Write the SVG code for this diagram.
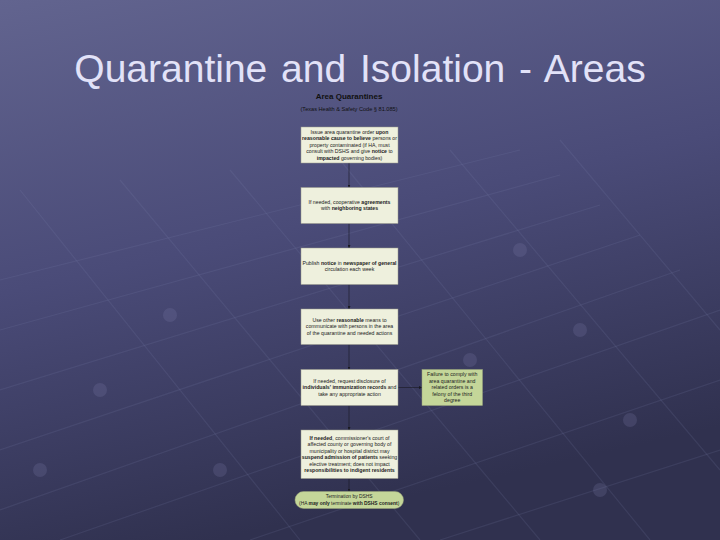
<svg xmlns="http://www.w3.org/2000/svg" width="720" height="540" viewBox="0 0 720 540">
<defs>
<linearGradient id="bg" x1="0" y1="0" x2="0.3" y2="1">
<stop offset="0" stop-color="#62648f"/>
<stop offset="0.5" stop-color="#4a4b78"/>
<stop offset="1" stop-color="#30314f"/>
</linearGradient>
<marker id="ah" viewBox="0 0 6 6" refX="6" refY="3" markerWidth="5" markerHeight="5" orient="auto">
<path d="M0,0 L6,3 L0,6 z" fill="#1a1a22"/>
</marker>
<style>
.box{fill:#eef0dd;stroke:#9a9a8a;stroke-width:0.5}
.grn{fill:#c4d699;stroke:#9aa57a;stroke-width:0.5}
.t{font-family:"Liberation Sans",Arial,sans-serif;font-size:5.2px;fill:#222;text-anchor:middle}
.b{font-weight:bold}
.con{stroke:#1a1a22;stroke-width:0.6;fill:none;marker-end:url(#ah)}
.grid{stroke:#8a8cba;stroke-opacity:0.14;stroke-width:1.2;fill:none}
.dot{fill:#7f81ad;fill-opacity:0.22}
</style>
</defs>
<rect width="720" height="540" fill="url(#bg)"/>
<g id="background-grid">
<path class="grid" d="M0,280 L520,150 M0,330 L560,175 M0,390 L600,205 M0,450 L640,235 M0,510 L680,270 M60,540 L720,310 M250,540 L720,380 M440,540 L720,450"/>
<path class="grid" d="M20,190 L300,540 M120,180 L420,540 M230,170 L540,540 M340,160 L650,540 M450,150 L720,470 M560,140 L720,330"/>
<circle class="dot" cx="100" cy="390" r="7"/><circle class="dot" cx="170" cy="315" r="7"/><circle class="dot" cx="220" cy="470" r="7"/>
<circle class="dot" cx="520" cy="250" r="7"/><circle class="dot" cx="580" cy="330" r="7"/><circle class="dot" cx="630" cy="420" r="7"/>
<circle class="dot" cx="470" cy="360" r="7"/><circle class="dot" cx="40" cy="470" r="7"/><circle class="dot" cx="600" cy="490" r="7"/>
</g>
<text x="360" y="82" font-family="'Liberation Sans',Arial,sans-serif" font-size="39" fill="#e2e2f8" text-anchor="middle" word-spacing="3">Quarantine and Isolation - Areas</text>
<g id="header">
<text x="349" y="99" font-family="'Liberation Sans',Arial,sans-serif" font-size="8" font-weight="bold" fill="#111" text-anchor="middle">Area Quarantines</text>
<text x="349" y="110.5" font-family="'Liberation Sans',Arial,sans-serif" font-size="5.6" fill="#111" text-anchor="middle">(Texas Health &amp; Safety Code § 81.085)</text>
</g>
<g id="connectors">
<line class="con" x1="349" y1="163" x2="349" y2="187.5"/>
<line class="con" x1="349" y1="223.5" x2="349" y2="248"/>
<line class="con" x1="349" y1="284.5" x2="349" y2="309"/>
<line class="con" x1="349" y1="344.5" x2="349" y2="369.5"/>
<line class="con" x1="349" y1="405.5" x2="349" y2="430"/>
<line class="con" x1="349" y1="478.5" x2="349" y2="491.5"/>
<line class="con" x1="398" y1="387.5" x2="422" y2="387.5"/>
</g>
<g id="n1">
<rect class="box" x="301" y="127" width="97" height="36"/>
<text class="t" y="133.8"><tspan x="349.5">Issue area quarantine order <tspan class="b">upon</tspan></tspan><tspan x="349.5" dy="6.5"><tspan class="b">reasonable cause to believe</tspan> persons or</tspan><tspan x="349.5" dy="6.5">property contaminated (if HA, must</tspan><tspan x="349.5" dy="6.5">consult with DSHS and give <tspan class="b">notice</tspan> to</tspan><tspan x="349.5" dy="6.5"><tspan class="b">impacted</tspan> governing bodies)</tspan></text>
</g>
<g id="n2">
<rect class="box" x="301" y="187.5" width="97" height="36"/>
<text class="t" y="203.8"><tspan x="349.5">If needed, cooperative <tspan class="b">agreements</tspan></tspan><tspan x="349.5" dy="6.6">with <tspan class="b">neighboring states</tspan></tspan></text>
</g>
<g id="n3">
<rect class="box" x="301" y="248" width="97" height="36.5"/>
<text class="t" y="264.5"><tspan x="349.5">Publish <tspan class="b">notice</tspan> in <tspan class="b">newspaper of general</tspan></tspan><tspan x="349.5" dy="6.4">circulation each week</tspan></text>
</g>
<g id="n4">
<rect class="box" x="301" y="309" width="97" height="35.5"/>
<text class="t" y="321.8"><tspan x="349.5">Use other <tspan class="b">reasonable</tspan> means to</tspan><tspan x="349.5" dy="6.5">communicate with persons in the area</tspan><tspan x="349.5" dy="6.5">of the quarantine and needed actions</tspan></text>
</g>
<g id="n5">
<rect class="box" x="301" y="369.5" width="97" height="36"/>
<text class="t" y="382.7"><tspan x="349.5">If needed, request disclosure of</tspan><tspan x="349.5" dy="6.5"><tspan class="b">individuals' immunization records</tspan> and</tspan><tspan x="349.5" dy="6.5">take any appropriate action</tspan></text>
</g>
<g id="n5b">
<rect class="grn" x="422" y="369.5" width="60.5" height="36"/>
<text class="t" y="376.1"><tspan x="452.2">Failure to comply with</tspan><tspan x="452.2" dy="6.5">area quarantine and</tspan><tspan x="452.2" dy="6.5">related orders is a</tspan><tspan x="452.2" dy="6.5">felony of the third</tspan><tspan x="452.2" dy="6.3">degree</tspan></text>
</g>
<g id="n6">
<rect class="box" x="301" y="430" width="97" height="48.5"/>
<text class="t" y="439.8"><tspan x="349.5"><tspan class="b">If needed</tspan>, commissioner's court of</tspan><tspan x="349.5" dy="6.5">affected county or governing body of</tspan><tspan x="349.5" dy="6.5">municipality or hospital district may</tspan><tspan x="349.5" dy="6.5"><tspan class="b">suspend admission of patients</tspan> seeking</tspan><tspan x="349.5" dy="6.5">elective treatment; does not impact</tspan><tspan x="349.5" dy="6.3"><tspan class="b">responsibilities to indigent residents</tspan></tspan></text>
</g>
<g id="n7">
<rect class="grn" x="295" y="491.5" width="108.5" height="17" rx="8.5"/>
<text class="t" y="497.7" style="font-size:4.9px"><tspan x="349.2">Termination by DSHS</tspan><tspan x="349.2" dy="6.8">(HA <tspan class="b">may only</tspan> terminate <tspan class="b">with DSHS consent</tspan>)</tspan></text>
</g>
</svg>
